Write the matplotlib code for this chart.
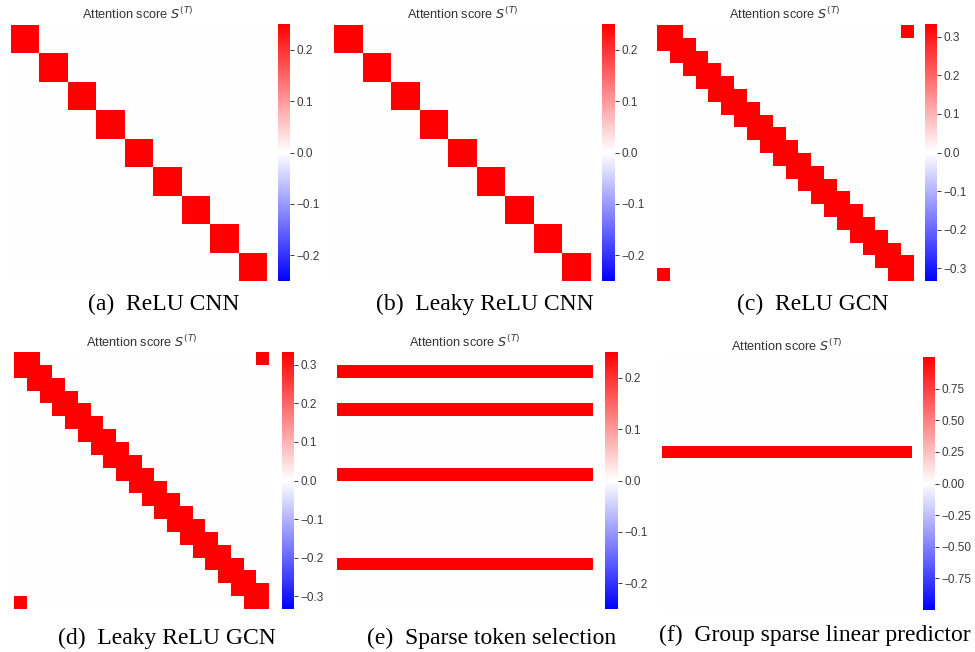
import numpy as np
import matplotlib.pyplot as plt

W, H = 975, 652

# (a)/(b) CNN: 9 tokens, diagonal attention
cnn_size = 9
cnn_value = 0.25
cnn_cells = [(i, i) for i in range(cnn_size)]

# (c)/(d) GCN: 20 nodes on a ring, self + neighbours
gcn_size = 20
gcn_value = 1 / 3
gcn_cells = [(i, (i + d) % gcn_size) for i in range(gcn_size) for d in (-1, 0, 1)]

# (e) sparse token selection: selected rows
sparse_size = 20
sparse_value = 0.25
sparse_rows = [1, 4, 9, 16]

# (f) group sparse linear predictor
group_size = 20
group_value = 1.0
group_rows = [7]

captions = ["(a)  ReLU CNN", "(b)  Leaky ReLU CNN", "(c)  ReLU GCN",
            "(d)  Leaky ReLU GCN", "(e)  Sparse token selection",
            "(f)  Group sparse linear predictor"]

cbar_ticks = [
    [-0.2, -0.1, 0.0, 0.1, 0.2],
    [-0.2, -0.1, 0.0, 0.1, 0.2],
    [-0.3, -0.2, -0.1, 0.0, 0.1, 0.2, 0.3],
    [-0.3, -0.2, -0.1, 0.0, 0.1, 0.2, 0.3],
    [-0.2, -0.1, 0.0, 0.1, 0.2],
    [-0.75, -0.5, -0.25, 0.0, 0.25, 0.5, 0.75],
]


def from_cells(n, cells, value):
    m = np.zeros((n, n))
    for r, c in cells:
        m[r, c] = value
    return m


def from_rows(n, rows, value):
    m = np.zeros((n, n))
    m[rows, :] = value
    return m


matrices = [
    from_cells(cnn_size, cnn_cells, cnn_value),
    from_cells(cnn_size, cnn_cells, cnn_value),
    from_cells(gcn_size, gcn_cells, gcn_value),
    from_cells(gcn_size, gcn_cells, gcn_value),
    from_rows(sparse_size, sparse_rows, sparse_value),
    from_rows(group_size, group_rows, group_value),
]

# pixel boxes: heatmap (x0, y0, x1, y1), colorbar (x0, y0, x1, y1), title xy, caption xy
boxes = [
    ((11, 25, 267, 281), (278, 24, 290, 281), (138, 14), (164, 304)),
    ((334, 25, 591, 281), (602, 24, 615, 281), (463, 14), (485, 304)),
    ((657, 25, 914, 281), (925, 24, 937, 281), (785, 14), (813, 304)),
    ((14, 352, 269, 609), (282, 352, 294, 609), (142, 342), (167, 638)),
    ((337, 352, 593, 609), (605, 352, 618, 609), (465, 342), (492, 638)),
    ((662, 357, 912, 610), (923, 357, 935, 610), (787, 346), (815, 635)),
]


def px_axes(fig, box):
    x0, y0, x1, y1 = box
    return fig.add_axes([x0 / W, 1 - y1 / H, (x1 - x0) / W, (y1 - y0) / H])


fig = plt.figure(figsize=(W / 100, H / 100), dpi=100)

for m, (hbox, cbox, tpos, cpos), ticks, cap in zip(matrices, boxes, cbar_ticks, captions):
    ax = px_axes(fig, hbox)
    vmax = m.max()
    mesh = ax.pcolormesh(m, cmap="bwr", vmin=-vmax, vmax=vmax)
    ax.set_xlim(0, m.shape[1])
    ax.set_ylim(m.shape[0], 0)
    ax.axis("off")

    cax = px_axes(fig, cbox)
    cb = fig.colorbar(mesh, cax=cax)
    cb.outline.set_visible(False)
    cb.set_ticks(ticks)
    cax.tick_params(length=3, width=0.7, labelsize=8.5, colors="#3a3a3a", pad=2)
    for lab in cax.get_yticklabels():
        lab.set_family("Liberation Sans")

    fig.text(tpos[0] / W, 1 - tpos[1] / H, r"Attention score $S^{(T)}$",
             ha="center", va="center", size=9.2, color="#333333", family="Liberation Sans")
    fig.text(cpos[0] / W, 1 - cpos[1] / H, cap, ha="center", va="center",
             size=17, family="Liberation Serif")

fig.savefig("out.png", dpi=100, facecolor="white")
